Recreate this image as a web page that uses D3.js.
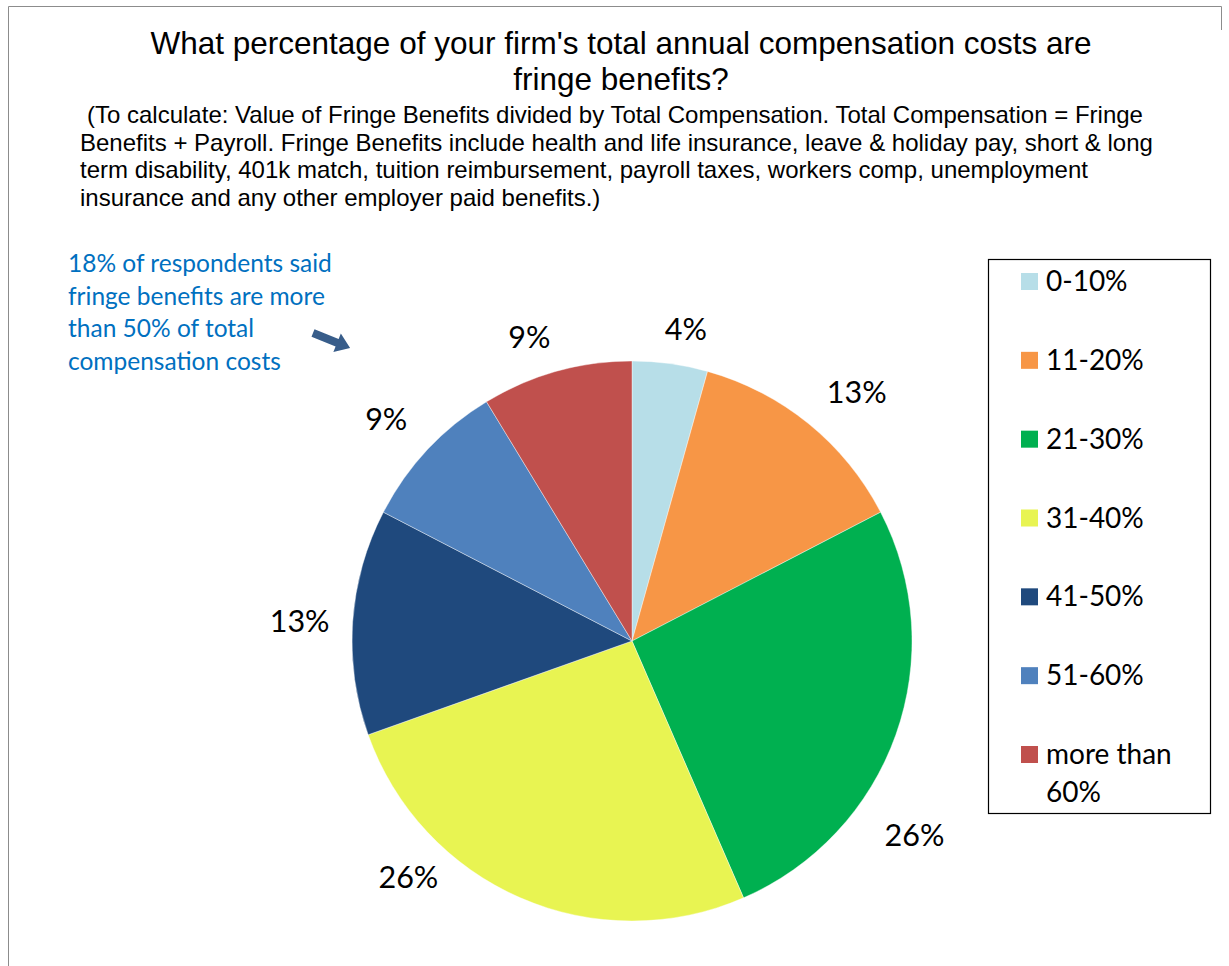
<!DOCTYPE html>
<html>
<head>
<meta charset="utf-8">
<script src="https://cdn.jsdelivr.net/npm/d3@7/dist/d3.min.js"></script>
<style>
  html, body { margin: 0; padding: 0; background: #fff; }
  svg { display: block; }
</style>
</head>
<body>
<svg id="chart" width="1229" height="966"></svg>
<script>
// Survey responses: share of total compensation that goes to fringe benefits
const categories = ["0-10%", "11-20%", "21-30%", "31-40%", "41-50%", "51-60%", "more than 60%"];
const respondents = [1, 3, 6, 6, 3, 2, 2];
const sliceColors = ["#B7DEE8", "#F79646", "#00B050", "#E8F452", "#1F497D", "#4F81BD", "#C0504D"];

const titleLines = [
  "What percentage of your firm's total annual compensation costs are",
  "fringe benefits?"
];
const noteLines = [
  "(To calculate: Value of Fringe Benefits divided by Total Compensation. Total Compensation = Fringe",
  "Benefits + Payroll. Fringe Benefits include health and life insurance, leave & holiday pay, short & long",
  "term disability, 401k match, tuition reimbursement, payroll taxes, workers comp, unemployment",
  "insurance and any other employer paid benefits.)"
];
const calloutLines = [
  "18% of respondents said",
  "fringe benefits are more",
  "than 50% of total",
  "compensation costs"
];

const svg = d3.select("#chart");
const W = 1229, H = 966;

// chart area frame (open at the bottom / right)
svg.append("path")
  .attr("d", `M8.5,${H} V6.5 H1221.5 V30`)
  .attr("fill", "none")
  .attr("stroke", "#8c8c8c")
  .attr("stroke-width", 1);

// title
const title = svg.append("text")
  .attr("text-anchor", "middle")
  .attr("font-family", "'Liberation Sans', Arial, sans-serif")
  .attr("font-size", 31.5)
  .attr("fill", "#000");
title.selectAll("tspan").data(titleLines).join("tspan")
  .attr("x", 621)
  .attr("y", (d, i) => 54 + i * 36)
  .text(d => d);

// explanatory note under the title
const note = svg.append("text")
  .attr("font-family", "'Liberation Sans', Arial, sans-serif")
  .attr("font-size", 24)
  .attr("fill", "#000");
note.selectAll("tspan").data(noteLines).join("tspan")
  .attr("x", (d, i) => i === 0 ? 87 : 80)
  .attr("y", (d, i) => 123 + i * 27.7)
  .text(d => d);

// pie
const cx = 632, cy = 641, R = 280;
const total = d3.sum(respondents);
const pct = d3.format(".0%");
const color = d3.scaleOrdinal().domain(categories).range(sliceColors);

const pie = d3.pie().sort(null).value(d => d.value);
const arcs = pie(categories.map((c, i) => ({ cat: c, value: respondents[i] })));
const arc = d3.arc().innerRadius(0).outerRadius(R);

const g = svg.append("g").attr("transform", `translate(${cx},${cy})`);
g.selectAll("path.slice").data(arcs).join("path")
  .attr("class", "slice")
  .attr("d", arc)
  .attr("fill", d => color(d.data.cat))
  .attr("stroke", "#ffffff")
  .attr("stroke-width", 0.4);

// percentage labels outside the pie (best-fit placement around each slice)
const labelShiftDeg = [2, 3, 15, 20, -0.5, -1, -3];
const labelRadius = [316, 335, 343, 325, 333, 331, 321];
g.selectAll("text.pct").data(arcs).join("text")
  .attr("class", "pct")
  .attr("text-anchor", "middle")
  .attr("dy", "0.35em")
  .attr("font-family", "Lato, 'Open Sans', sans-serif")
  .attr("font-size", 30.5)
  .attr("fill", "#000")
  .attr("x", (d, i) => {
    const a = (d.startAngle + d.endAngle) / 2 + labelShiftDeg[i] * Math.PI / 180;
    return Math.sin(a) * labelRadius[i];
  })
  .attr("y", (d, i) => {
    const a = (d.startAngle + d.endAngle) / 2 + labelShiftDeg[i] * Math.PI / 180;
    return -Math.cos(a) * labelRadius[i];
  })
  .text(d => pct(d.data.value / total));

// callout text and arrow
const callout = svg.append("text")
  .attr("font-family", "Lato, 'Open Sans', sans-serif")
  .attr("font-size", 24.5)
  .attr("fill", "#0070C0");
callout.selectAll("tspan").data(calloutLines).join("tspan")
  .attr("x", 68)
  .attr("y", (d, i) => 272 + i * 32.5)
  .text(d => d);

// block arrow pointing down-right toward the pie
const arrowLen = 40, shaftW = 8, headW = 20, headL = 14;
svg.append("path")
  .attr("transform", "translate(313,333) rotate(22)")
  .attr("d", `M0,${-shaftW / 2} H${arrowLen - headL} V${-headW / 2} L${arrowLen},0 L${arrowLen - headL},${headW / 2} V${shaftW / 2} H0 Z`)
  .attr("fill", "#385D8A");

// legend
const lg = svg.append("g");
lg.append("rect")
  .attr("x", 988.5).attr("y", 259.5)
  .attr("width", 222).attr("height", 554)
  .attr("fill", "#fff")
  .attr("stroke", "#000")
  .attr("stroke-width", 1.2);

const rowY = d3.scalePoint().domain(categories).range([281, 754]);
const items = lg.selectAll("g.item").data(categories).join("g")
  .attr("class", "item")
  .attr("transform", d => `translate(0,${rowY(d)})`);
items.append("rect")
  .attr("x", 1021).attr("y", -8)
  .attr("width", 17).attr("height", 17)
  .attr("fill", d => color(d));
items.append("text")
  .attr("font-family", "Lato, 'Open Sans', sans-serif")
  .attr("font-size", 28)
  .attr("fill", "#000")
  .selectAll("tspan")
  .data(d => d === "more than 60%" ? ["more than", "60%"] : [d])
  .join("tspan")
  .attr("x", 1046)
  .attr("y", (d, i) => 10 + i * 38)
  .text(d => d);
</script>
</body>
</html>
